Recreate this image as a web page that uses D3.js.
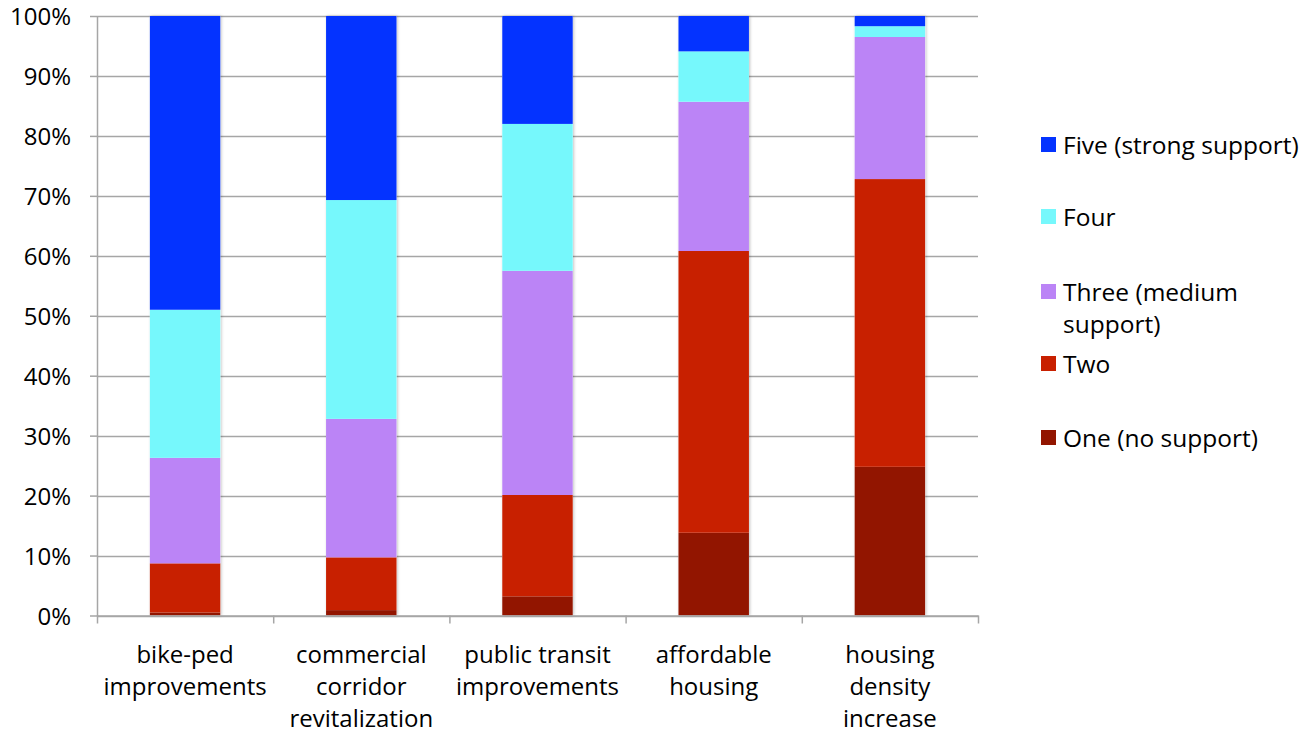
<!DOCTYPE html>
<html><head><meta charset="utf-8">
<script src="https://cdn.jsdelivr.net/npm/d3@7"></script>
<style>body{margin:0;background:#fff}svg{display:block}text{font-family:"Open Sans","Noto Sans",sans-serif;fill:#000}</style>
</head><body><svg id="c" width="1312" height="735"></svg>
<script>
const categories = [["bike-ped","improvements"],["commercial","corridor","revitalization"],["public transit","improvements"],["affordable","housing"],["housing","density","increase"]];
const seriesNames = ["One (no support)","Two","Three (medium support)","Four","Five (strong support)"];
const one   = [0.5, 0.9, 3.2, 13.8, 24.8];
const two   = [8.2, 8.8, 16.9, 47.0, 48.0];
const three = [17.6, 23.1, 37.4, 24.9, 23.7];
const four  = [24.7, 36.5, 24.5, 8.4, 1.8];
const five  = [49.0, 30.7, 18.0, 5.9, 1.7];
const yTicks = [0,10,20,30,40,50,60,70,80,90,100];
const colors = ["#921500","#C82000","#BB84F6","#76F8FC","#0433FF"];

const svg = d3.select("#c");
const L=97,R=978,T=16,B=615.5;
const x = d3.scaleBand().domain(d3.range(categories.length)).range([L,R]).paddingInner(0.6).paddingOuter(0.3);
const y = d3.scaleLinear().domain([0,100]).range([B,T]);
const vals=[one,two,three,four,five];
const rows = categories.map((c,i)=>{const o={i};vals.forEach((v,k)=>o[k]=v[i]);return o;});
const stack = d3.stack().keys(d3.range(5))(rows);

// gridlines
svg.append("g").selectAll("line").data(yTicks).join("line")
 .attr("x1",L).attr("x2",R).attr("y1",d=>Math.round(y(d))+0.5).attr("y2",d=>Math.round(y(d))+0.5)
 .attr("stroke","#a6a6a6").attr("stroke-width",1.5);

// shadow filter
const defs=svg.append("defs");
const f=defs.append("filter").attr("id","sh").attr("x","-10%").attr("y","-10%").attr("width","120%").attr("height","120%");
f.append("feDropShadow").attr("dx",1).attr("dy",0).attr("stdDeviation",1.5).attr("flood-color","#000").attr("flood-opacity",0.25);

const gb=svg.append("g");
categories.forEach((c,i)=>{
  gb.append("rect").attr("x",x(i)).attr("width",x.bandwidth()).attr("y",y(100)).attr("height",y(0)-y(100)).attr("fill","#fff").attr("filter","url(#sh)");
});
stack.forEach((s,k)=>{
  gb.append("g").selectAll("rect").data(s).join("rect")
   .attr("x",d=>x(d.data.i)).attr("width",x.bandwidth())
   .attr("y",d=>y(Math.min(d[1],100))).attr("height",d=>y(d[0])-y(Math.min(d[1],100)))
   .attr("fill",colors[k]);
});

// y axis
const ya=d3.axisLeft(y).tickValues(yTicks).tickFormat(d=>d+"%").tickSize(7).tickSizeOuter(0);
const gy=svg.append("g").attr("transform",`translate(${L},0)`).call(ya);
gy.select(".domain").attr("stroke","#a6a6a6").attr("stroke-width",1.5);
gy.selectAll(".tick line").attr("stroke","#a6a6a6").attr("stroke-width",1.5);
gy.selectAll(".tick text").attr("font-size",24).attr("x",-26).attr("dy","0.36em");

// x axis
const xb=d3.scaleLinear().domain([0,categories.length]).range([L,R]);
const xa=d3.axisBottom(xb).tickValues(d3.range(categories.length+1)).tickFormat("").tickSize(8).tickSizeOuter(0);
const gx=svg.append("g").attr("transform",`translate(0,${B})`).call(xa);
gx.select(".domain").attr("stroke","#a6a6a6").attr("stroke-width",1.5);
gx.selectAll(".tick line").attr("stroke","#a6a6a6").attr("stroke-width",1.5);

const gl=svg.append("g");
categories.forEach((c,i)=>{
  const cx=x(i)+x.bandwidth()/2;
  const t=gl.append("text").attr("text-anchor","middle").attr("font-size",24).attr("x",cx).attr("y",663);
  c.forEach((line,j)=>t.append("tspan").attr("x",cx).attr("dy",j?32:0).text(line));
});

// legend
const legendLines=[["Five (strong support)"],["Four"],["Three (medium","support)"],["Two"],["One (no support)"]];
const legendY=[145,217,292,364,438];
const order=[4,3,2,1,0];
const lg=svg.append("g");
order.forEach((k,n)=>{
  const yy=legendY[n];
  lg.append("rect").attr("x",1041).attr("y",yy-8).attr("width",15).attr("height",15).attr("fill",colors[k]);
  legendLines[n].forEach((l,j)=>lg.append("text").attr("x",1063).attr("y",yy+j*32).attr("dy","0.36em").attr("font-size",24.5).text(l));
});
</script></body></html>
